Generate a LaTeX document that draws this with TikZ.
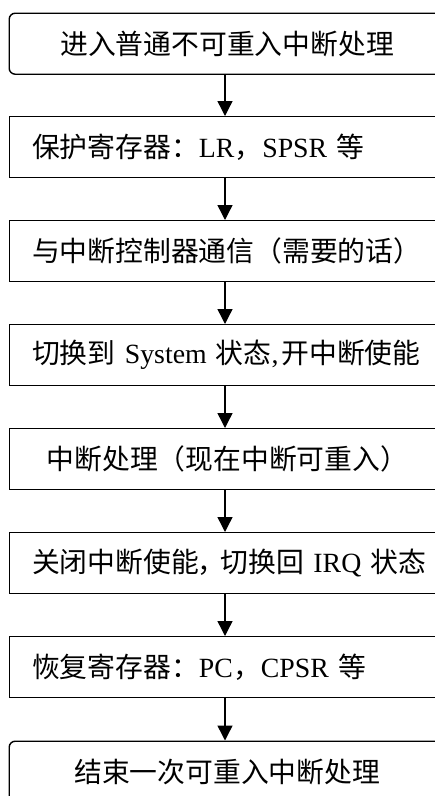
\documentclass[tikz,border=0pt]{standalone}
\usepackage{fontspec}
\setmainfont{Liberation Serif}
\newfontfamily\cjk{Noto Sans CJK SC}
\usetikzlibrary{arrows.meta}
\tikzset{
  stepbox/.style={draw=black, line width=1.4pt, minimum width=436pt, minimum height=61pt,
    anchor=north west, font=\fontsize{27.8}{30}\selectfont, inner ysep=0pt},
  leftbox/.style={stepbox, align=left, inner xsep=23pt, text width=405pt},
  midbox/.style={stepbox, align=center, rounded corners=6pt, inner xsep=0pt, text width=432pt},
  flow/.style={line width=1.4pt, -{Triangle[width=15pt,length=15pt]}}
}
\begin{document}
\begin{tikzpicture}[x=1pt,y=1pt]
\useasboundingbox (0,0) rectangle (435,-796);
\clip (0,0) rectangle (435,-796);
\node[midbox] (b1) at (8.5,-12.5) {\cjk 进入普通不可重入中断处理\hspace*{4pt}};
\node[leftbox] (b2) at (8.5,-116) {{\cjk 保护寄存器：}LR{\cjk ，}SPSR {\cjk 等}};
\node[leftbox] (b3) at (8.5,-220) {\cjk 与中断控制器通信（需要的话）};
\node[leftbox] (b4) at (8.5,-324) {{\cjk 切换到} System {\cjk 状态},\hspace{3pt}{\cjk 开中断使能}};
\node[leftbox, inner xsep=37.5pt, text width=380pt] (b5) at (8.5,-428) {\cjk 中断处理（现在中断可重入）};
\node[leftbox] (b6) at (8.5,-532) {{\cjk 关闭中断使能\kern-2pt，\kern-4pt切换回} IRQ {\cjk 状态}};
\node[leftbox] (b7) at (8.5,-636) {{\cjk 恢复寄存器：}PC{\cjk ，}CPSR {\cjk 等}};
\node[midbox] (b8) at (8.5,-740.5) {\cjk 结束一次可重入中断处理\hspace*{4pt}};
\foreach \a/\b in {b1/b2,b2/b3,b3/b4,b4/b5,b5/b6,b6/b7,b7/b8}
  \draw[flow] (\a.south -| 225,0) -- (\b.north -| 225,0);
\end{tikzpicture}
\end{document}
